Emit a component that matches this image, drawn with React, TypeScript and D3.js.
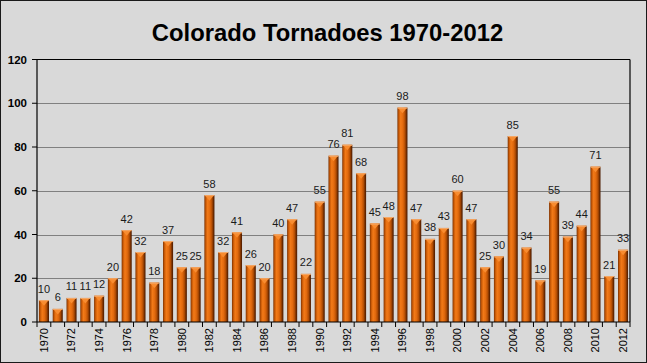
import React from "react";
import * as d3 from "d3";

const years: string[] = [];
for (let y = 1970; y <= 2012; y++) years.push(String(y));
const counts = [10, 6, 11, 11, 12, 20, 42, 32, 18, 37, 25, 25, 58, 32, 41, 26, 20, 40, 47, 22, 55, 76, 81, 68, 45, 48, 98, 47, 38, 43, 60, 47, 25, 30, 85, 34, 19, 55, 39, 44, 71, 21, 33];
const yTicks = [0, 20, 40, 60, 80, 100, 120];
const title = "Colorado Tornadoes 1970-2012";

const W = 647, H = 363;
const left = 37, right = 630, top = 59.5, bottom = 322;

export default function App() {
  const x = d3.scaleBand<string>().domain(years).range([left, right]).paddingInner(0.27).paddingOuter(0.14);
  const y = d3.scaleLinear().domain([0, 120]).range([bottom, top]);
  const bw = x.bandwidth();
  const font = "'Liberation Sans', Arial, sans-serif";
  const boundaries = d3.range(years.length + 1).map((i) => left + i * ((right - left) / years.length));
  return (
    <svg width={W} height={H} style={{ position: "absolute", left: 0, top: 0 }} fontFamily={font}>
      <defs>
        <linearGradient id="barg" x1="0" x2="1" y1="0" y2="0">
          <stop offset="0" stopColor="#7a3000" />
          <stop offset="0.14" stopColor="#c65806" />
          <stop offset="0.32" stopColor="#f27a18" />
          <stop offset="0.55" stopColor="#e26a0e" />
          <stop offset="0.75" stopColor="#b44e04" />
          <stop offset="0.9" stopColor="#6c2a00" />
          <stop offset="1" stopColor="#4a1a00" />
        </linearGradient>
      </defs>
      <rect x={0.5} y={0.5} width={W - 1} height={H - 1} fill="#d9d9d9" stroke="#1a1a1a" strokeWidth={1} />
      <text x={327.5} y={41} textAnchor="middle" fontSize={23.8} fontWeight="bold" fill="#000">{title}</text>
      {yTicks.filter((t) => t > 0 && t < 120).map((t) => (
        <line key={"g" + t} x1={left} x2={right} y1={Math.round(y(t)) + 0.5} y2={Math.round(y(t)) + 0.5} stroke="#808080" strokeWidth={1} />
      ))}
      {years.map((yr, i) => {
        const v = counts[i];
        const x0 = x(yr)!;
        const yt = y(v);
        const h = bottom - yt;
        const cx = x0 + bw / 2;
        return (
          <g key={yr}>
            <rect x={x0} y={yt} width={bw} height={h} fill="url(#barg)" />
            <polygon points={`${x0 + 0.5},${yt} ${x0 + bw - 0.5},${yt} ${cx},${yt + Math.min(5.5, h)}`} fill="#f88c30" />
            <line x1={x0} x2={x0 + bw} y1={yt + 0.5} y2={yt + 0.5} stroke="#f4a868" strokeWidth={1} />
            <text x={cx} y={yt - 7.5} textAnchor="middle" fontSize={11} fill="#1a1a1a">{v}</text>
          </g>
        );
      })}
      <line x1={left} x2={right} y1={top} y2={top} stroke="#000" strokeWidth={1.2} />
      <line x1={right} x2={right} y1={top} y2={bottom} stroke="#000" strokeWidth={1.2} />
      <line x1={left} x2={left} y1={top} y2={bottom} stroke="#000" strokeWidth={1.2} />
      <line x1={left} x2={right} y1={bottom} y2={bottom} stroke="#000" strokeWidth={1.2} />
      {yTicks.map((t) => (
        <g key={"y" + t}>
          <line x1={left - 5} x2={left} y1={y(t)} y2={y(t)} stroke="#000" strokeWidth={1} />
          <text x={27} y={y(t)} dy="0.35em" textAnchor="end" fontSize={11.5} fontWeight="bold" fill="#000">{t}</text>
        </g>
      ))}
      {boundaries.map((bx, i) => (
        <line key={"t" + i} x1={bx} x2={bx} y1={bottom} y2={bottom + 5} stroke="#000" strokeWidth={1} />
      ))}
      {years.map((yr, i) =>
        i % 2 === 0 ? (
          <text key={"l" + yr} transform={`translate(${x(yr)! + bw / 2},${bottom + 6}) rotate(-90)`} dy="0.35em" textAnchor="end" fontSize={11} fill="#000">{yr}</text>
        ) : null
      )}
    </svg>
  );
}
